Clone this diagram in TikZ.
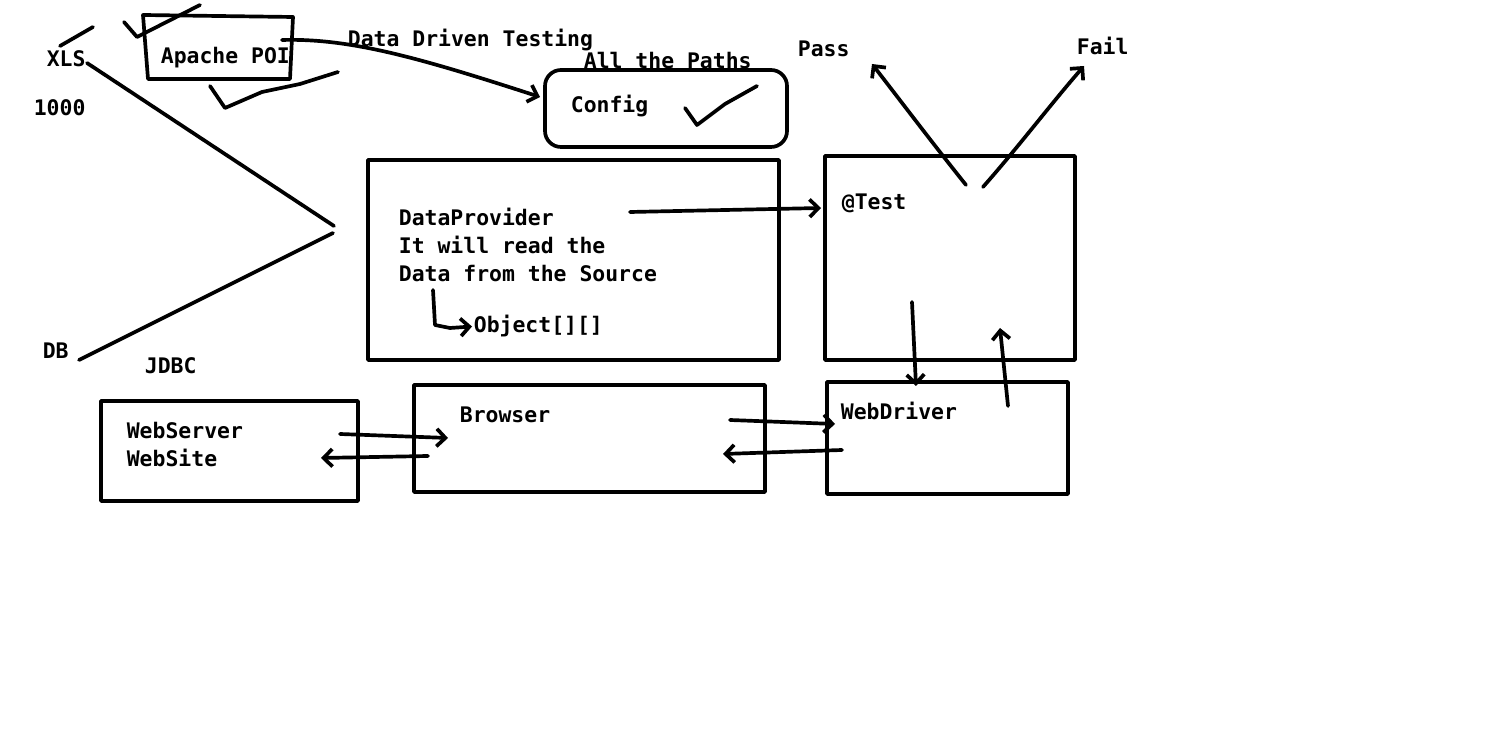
\documentclass[tikz,border=0pt]{standalone}
\usepackage{fontspec}
\setmonofont{DejaVu Sans Mono}
\usetikzlibrary{arrows.meta}

\begin{document}
\begin{tikzpicture}[x=0.02cm, y=-0.02cm, line width=2.1pt, line cap=round, line join=round,
    lbl/.style={font=\ttfamily\bfseries\fontsize{12.2}{14}\selectfont, anchor=base west, inner sep=0pt},
    barb/.style={-{Straight Barb[length=5pt,width=10pt]}}]
    \useasboundingbox[fill=white] (0,0) rectangle (1508,742);
    % boxes
    \coordinate (poi-nw) at (143,15);
    \coordinate (cfg-nw) at (545,70);  \coordinate (cfg-se) at (787,147);
    \coordinate (dp-nw)  at (368,160); \coordinate (dp-se)  at (779,360);
    \coordinate (tst-nw) at (825,156); \coordinate (tst-se) at (1075,360);
    \coordinate (ws-nw)  at (101,401); \coordinate (ws-se)  at (358,501);
    \coordinate (br-nw)  at (414,385); \coordinate (br-se)  at (765,492);
    \coordinate (wd-nw)  at (827,382); \coordinate (wd-se)  at (1068,494);
    \draw (poi-nw) -- (293,17) -- (290,79) -- (148,79) -- cycle;
    \draw[rounded corners=0.32cm] (cfg-nw) rectangle (cfg-se);
    \foreach \B in {dp,tst,ws,br,wd}
      { \draw (\B-nw) rectangle (\B-se); }
    % labels
    \foreach \N/\x/\y/\T in {xls/45/67/XLS, cnt/32/116/1000, db/41/359/DB, jdbc/143/374/JDBC,
        poi/159/64/Apache POI, ddt/346/47/Data Driven Testing, paths/582/69/All the Paths,
        cfg/569/113/Config, pass/796/57/Pass, fail/1075/55/Fail,
        dp1/397/226/DataProvider, dp2/397/254/It will read the, dp3/397/282/Data from the Source,
        obj/472/333/Object[][], tst/840/210/@Test, br/458/423/Browser,
        ws1/125/439/WebServer, ws2/125/467/WebSite, wd/839/420/WebDriver}
      { \node[lbl] (\N) at (\x,\y) {\T}; }
    % sources
    \coordinate (join1) at (334,226);
    \coordinate (join2) at (333,233);
    \draw (87,63) -- (join1);
    \draw (79,360) -- (join2);
    \draw (60,46) -- (93,27);
    \draw (124,22) -- (137,37) -- (200,5);
    \draw (210,86) -- (225,108) -- (262,92) -- (300,84) -- (338,72);
    \draw (685,108) -- (697,125) -- (725,104) -- (757,86);
    % connectors
    \coordinate (poi-out) at (282,40);
    \coordinate (cfg-in)  at (540,97);
    \draw[barb] (poi-out) .. controls (350,38) and (420,58) .. (cfg-in);
    \coordinate (hook) at (433,290);
    \draw[barb] (hook) -- (435,325) -- (450,328) -- (obj.west);
    \coordinate (dp-out) at (630,212);
    \coordinate (tst-in) at (821,208);
    \draw[barb] (dp-out) -- (tst-in);
    \coordinate (res1) at (966,185);
    \coordinate (res2) at (983,187);
    \draw[barb] (res1) .. controls (930,140) and (900,100) .. (872,64);
    \draw[barb] (res2) .. controls (1020,145) and (1050,105) .. (1084,66);
    \coordinate (ws-out) at (340,434); \coordinate (br-in)  at (448,438);
    \coordinate (br-out) at (428,456); \coordinate (ws-in)  at (321,458);
    \draw[barb] (ws-out) -- (br-in);
    \draw[barb] (br-out) -- (ws-in);
    \coordinate (br-out2) at (730,420); \coordinate (wd-in)   at (835,424);
    \coordinate (wd-out)  at (842,450); \coordinate (br-in2)  at (723,454);
    \draw[barb] (br-out2) -- (wd-in);
    \draw[barb] (wd-out) -- (br-in2);
    \coordinate (tst-dn) at (912,302); \coordinate (wd-top) at (916,386);
    \coordinate (wd-up)  at (1008,406); \coordinate (tst-bt) at (1000,328);
    \draw[barb] (tst-dn) -- (wd-top);
    \draw[barb] (wd-up) -- (tst-bt);
  \end{tikzpicture}
\end{document}
